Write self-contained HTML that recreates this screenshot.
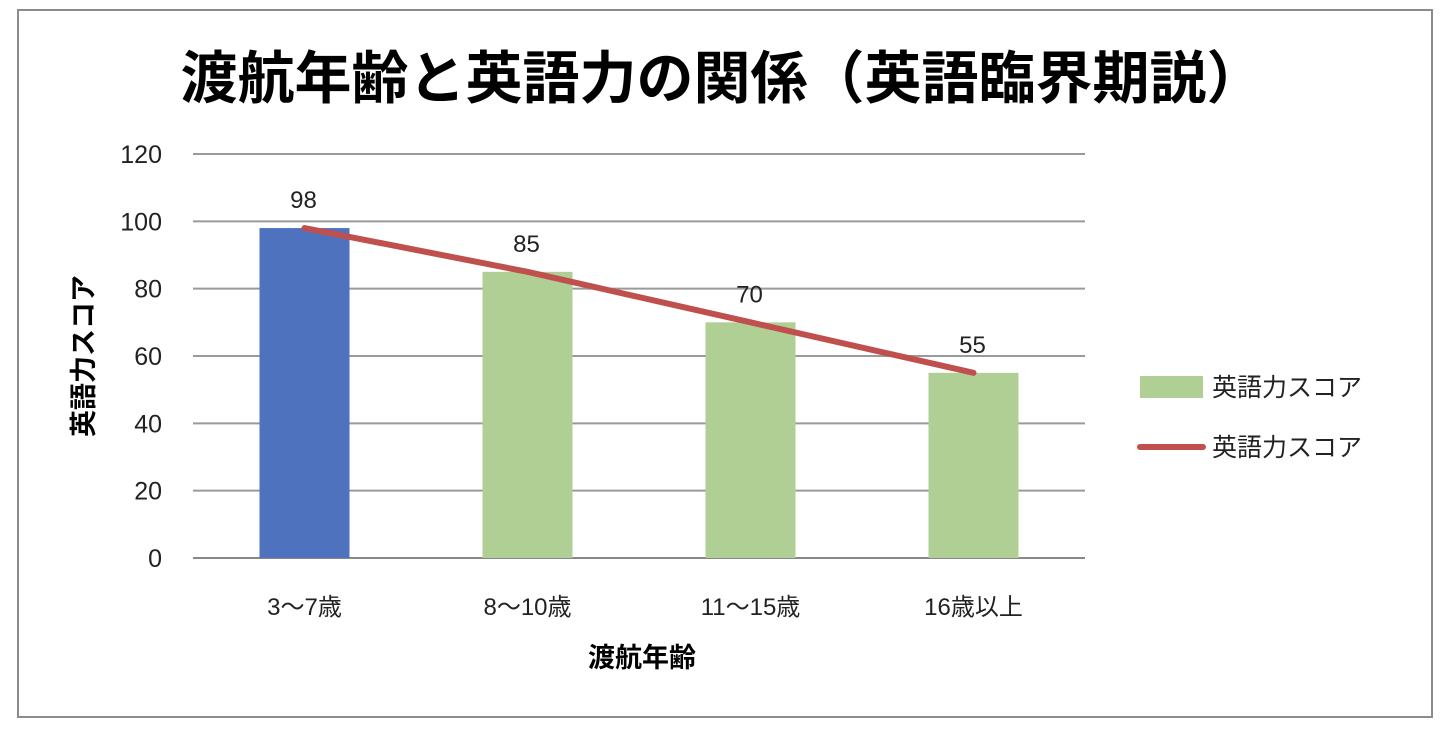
<!DOCTYPE html>
<html><head><meta charset="utf-8"><style>
body{margin:0;background:#fff;}
svg text{font-family:"Liberation Sans","Noto Sans CJK JP",sans-serif;}
</style></head><body>
<svg width="1452" height="736" xmlns="http://www.w3.org/2000/svg">
<rect x="18" y="10" width="1414" height="707" fill="#fff" stroke="#8c8c8c" stroke-width="2"/>
<text x="722" y="98" text-anchor="middle" font-size="57" font-weight="bold" fill="#000">渡航年齢と英語力の関係（英語臨界期説）</text>
<g id="grid"></g>
<g id="bars"></g>
<g id="line"></g>
<g id="labels"></g>
<text transform="translate(93,356) rotate(-90)" text-anchor="middle" font-size="27" font-weight="bold">英語力スコア</text>
<text x="642" y="667" text-anchor="middle" font-size="27" font-weight="bold">渡航年齢</text>
<g>
<rect x="1140" y="376" width="63" height="22" fill="#b0cf95"/>
<text x="1212" y="396" font-size="25" fill="#222">英語力スコア</text>
<line x1="1140" y1="447" x2="1203" y2="447" stroke="#c0504d" stroke-width="6" stroke-linecap="round"/>
<text x="1212" y="456" font-size="25" fill="#222">英語力スコア</text>
</g>
</svg>
<script>
const categories=["3〜7歳","8〜10歳","11〜15歳","16歳以上"];
const scores=[98,85,70,55];
const yTicks=[0,20,40,60,80,100,120];
const NS="http://www.w3.org/2000/svg";
const x0=193,x1=1085,y0=558,yTop=154,yMax=120;
const band=(x1-x0)/categories.length;
const xc=i=>x0+band*(i+0.5);
const ys=v=>y0-(v/yMax)*(y0-yTop);
function mk(tag,attrs,parent){const e=document.createElementNS(NS,tag);for(const k in attrs)e.setAttribute(k,attrs[k]);parent.appendChild(e);return e;}
const grid=document.getElementById('grid');
yTicks.forEach(t=>{
 const l=mk('line',{x1:x0,x2:x1,y1:ys(t),y2:ys(t),stroke:t===0?'#888':'#9a9a9a','stroke-width':2},grid);
 
 
 const tx=mk('text',{x:162,y:ys(t)+9,'text-anchor':'end','font-size':25,fill:'#222'},grid);
 tx.textContent=t;
 
 
});
const bars=document.getElementById('bars');
const labels=document.getElementById('labels');
scores.forEach((v,i)=>{
 const r=mk('rect',{x:xc(i)-45,y:ys(v),width:90,height:y0-ys(v),fill:i===0?'#4f72be':'#b0cf95'},bars);
 
 
 const t=mk('text',{x:xc(i)-1,y:ys(v)-20,'text-anchor':'middle','font-size':24,fill:'#222'},labels);
 t.textContent=v;
 
 
 const c=mk('text',{x:xc(i),y:615,'text-anchor':'middle','font-size':24,fill:'#222'},labels);
 c.textContent=categories[i];
 
 
});
const line=document.getElementById('line');
const p=mk('polyline',{points:scores.map((v,i)=>xc(i)+','+ys(v)).join(' '),fill:'none',stroke:'#c0504d','stroke-width':6,'stroke-linecap':'round','stroke-linejoin':'round'},line);


</script>
</body></html>
